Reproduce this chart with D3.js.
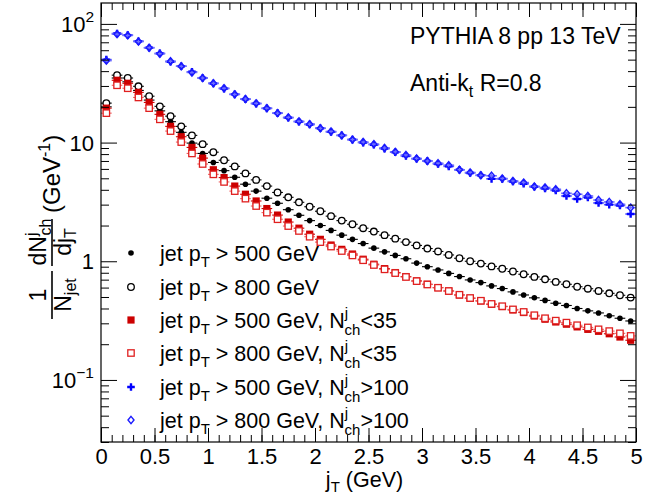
<!DOCTYPE html>
<html><head><meta charset="utf-8">
<script src="https://cdn.jsdelivr.net/npm/d3@7"></script>
<style>
body{margin:0;background:#fff;}
svg{display:block;font-family:"Liberation Sans",Arial,Helvetica,sans-serif;}
</style></head>
<body><svg id="c" width="664" height="494"></svg>
<script>
// ---- data ----
const jT = [0.05,0.15,0.25,0.35,0.45,0.55,0.65,0.75,0.85,0.95,
            1.05,1.15,1.25,1.35,1.45,1.55,1.65,1.75,1.85,1.95,
            2.05,2.15,2.25,2.35,2.45,2.55,2.65,2.75,2.85,2.95,
            3.05,3.15,3.25,3.35,3.45,3.55,3.65,3.75,3.85,3.95,
            4.05,4.15,4.25,4.35,4.45,4.55,4.65,4.75,4.85,4.95];
const binHalfWidth = 0.05;
const pt500 = [20,35,32.5,27.5,22.8,18.5,15.0,12.2,9.9,8.1,
  6.8,5.8,5.1,4.46,3.9,3.4,3.08,2.72,2.44,2.2,
  2.0,1.82,1.66,1.53,1.41,1.29,1.2,1.12,1.05,0.965,
  0.90,0.845,0.79,0.743,0.696,0.661,0.62,0.589,0.552,0.52,
  0.492,0.468,0.443,0.424,0.40,0.382,0.367,0.347,0.331,0.314];
const pt800 = [21.5,37,35,29.8,24.6,20.2,16.7,13.7,11.5,9.7,
  8.3,7.1,6.3,5.5,4.85,4.3,3.8,3.46,3.14,2.88,
  2.64,2.4,2.2,2.05,1.9,1.78,1.66,1.55,1.45,1.36,
  1.28,1.21,1.13,1.06,1.0,0.956,0.905,0.865,0.82,0.777,
  0.738,0.705,0.67,0.64,0.61,0.587,0.562,0.537,0.517,0.494];
const pt500Low = [19.5,33.5,31.6,26.5,21.8,17.3,13.7,11.2,9.1,7.4,
  5.9,5.07,4.3,3.67,3.22,2.78,2.45,2.14,1.9,1.69,
  1.53,1.37,1.26,1.15,1.04,0.944,0.867,0.803,0.743,0.683,
  0.64,0.60,0.562,0.52,0.488,0.463,0.434,0.415,0.389,0.37,
  0.346,0.325,0.308,0.295,0.28,0.267,0.257,0.245,0.23,0.216];
const pt800Low = [17.7,30.4,28.7,24,19.5,15.7,12.5,10.1,8.1,6.6,
  5.4,4.66,3.9,3.37,2.92,2.57,2.26,1.98,1.8,1.61,
  1.45,1.33,1.22,1.12,1.02,0.93,0.855,0.795,0.737,0.68,
  0.637,0.598,0.561,0.522,0.49,0.465,0.437,0.418,0.393,0.374,
  0.351,0.331,0.316,0.304,0.289,0.277,0.267,0.258,0.247,0.235];
const pt500High = [50,83,80.5,71.5,63,56.5,48,44,39.5,35,
  31.5,28.5,25.5,23.2,21.3,19.4,17.7,16.2,15.0,14.2,
  13.2,12.3,11.5,10.6,10.0,9.6,8.9,8.3,7.7,7.3,
  7.0,6.6,6.3,5.9,5.55,5.3,4.95,4.95,4.7,4.5,
  4.25,4.1,3.95,3.55,3.35,3.45,3.1,3.0,2.95,2.5];
const pt800High = [49,82,80,71,63,56,48.5,44,39,35,
  31.6,28.7,25.5,23.3,21.4,19.5,17.7,16.3,15.1,14.3,
  13.2,12.4,11.5,10.6,10.1,9.7,9.0,8.35,7.85,7.35,
  7.0,6.7,6.45,5.9,5.6,5.3,5.25,4.98,4.75,4.6,
  4.27,4.18,4.04,3.74,3.67,3.55,3.28,3.16,3.02,2.83];
const relErr = {pt500:0.01, pt800:0.01, pt500Low:0.015, pt800Low:0.015, pt500High:0.035, pt800High:0.035};

const xTickValues = [0,0.5,1,1.5,2,2.5,3,3.5,4,4.5,5];
const xTickLabels = ["0","0.5","1","1.5","2","2.5","3","3.5","4","4.5","5"];
const yTickValues = [0.1,1,10,100];
const yTickBase = ["10","1","10","10"];
const yTickExp = ["\u22121","","","2"];

const legendLabels = [
  {pt:"500", cut:null, op:null},
  {pt:"800", cut:null, op:null},
  {pt:"500", cut:"35", op:"<"},
  {pt:"800", cut:"35", op:"<"},
  {pt:"500", cut:"100", op:">"},
  {pt:"800", cut:"100", op:">"}
];

// ---- drawing ----
const svg = d3.select("#c");
const L=101,R=636,T=3,B=442;
const x = d3.scaleLinear().domain([0,5]).range([L,R]);
const y = d3.scaleLog().domain([0.03,150]).range([B,T]);

const series = [
  {name:"pt500", data:pt500, color:"#000000", bar:"#000000", marker:"dot"},
  {name:"pt800", data:pt800, color:"#000000", bar:"#000000", marker:"circle"},
  {name:"pt500Low", data:pt500Low, color:"#cc0000", bar:"#cc0000", marker:"square"},
  {name:"pt800Low", data:pt800Low, color:"#e02020", bar:"#ee6060", marker:"osquare"},
  {name:"pt500High", data:pt500High, color:"#0000ff", bar:"#5555ff", marker:"plus"},
  {name:"pt800High", data:pt800High, color:"#1a1aff", bar:"#7070ff", marker:"diamond"}
];

function drawMarker(g, type, cx, cy, color){
  if(type==="dot") g.append("circle").attr("cx",cx).attr("cy",cy).attr("r",2.8).attr("fill",color);
  else if(type==="circle") g.append("circle").attr("cx",cx).attr("cy",cy).attr("r",3.3).attr("fill","#fff").attr("stroke",color).attr("stroke-width",1.3);
  else if(type==="square") g.append("rect").attr("x",cx-3.6).attr("y",cy-3.6).attr("width",7.2).attr("height",7.2).attr("fill",color);
  else if(type==="osquare") g.append("rect").attr("x",cx-3.2).attr("y",cy-3.2).attr("width",6.4).attr("height",6.4).attr("fill","#fff").attr("stroke",color).attr("stroke-width",1.3);
  else if(type==="plus") g.append("path").attr("d",`M${cx-3.8},${cy}H${cx+3.8}M${cx},${cy-3.8}V${cy+3.8}`).attr("stroke",color).attr("stroke-width",2.4);
  else if(type==="diamond") g.append("path").attr("d",`M${cx},${cy-3.6}L${cx+3},${cy}L${cx},${cy+3.6}L${cx-3},${cy}Z`).attr("fill","none").attr("stroke",color).attr("stroke-width",1.4);
}

const plot = svg.append("g");
series.forEach(s=>{
  const g = plot.append("g");
  s.data.forEach((v,i)=>{
    const cx = x(jT[i]), cy = y(v);
    const e = v*relErr[s.name];
    g.append("line").attr("x1",x(jT[i]-binHalfWidth)).attr("x2",x(jT[i]+binHalfWidth))
      .attr("y1",cy).attr("y2",cy).attr("stroke",s.bar).attr("stroke-width",s.marker==="plus"||s.marker==="diamond"?1.6:1.1);
    g.append("line").attr("x1",cx).attr("x2",cx).attr("y1",y(v+e)).attr("y2",y(v-e))
      .attr("stroke",s.bar).attr("stroke-width",1.1);
    drawMarker(g, s.marker, cx, cy, s.color);
  });
});

// frame
svg.append("rect").attr("x",L).attr("y",T).attr("width",R-L).attr("height",B-T)
  .attr("fill","none").attr("stroke","#000").attr("stroke-width",1.2);

// axes ticks (inward)
const xMinor = x.ticks(50);
const yAll = y.ticks();
const yMinor = yAll.filter(v=>!yTickValues.some(t=>Math.abs(t-v)/t<1e-6));
function styleAxis(g){ g.select(".domain").remove(); g.selectAll("line").attr("stroke","#000").attr("stroke-width",1); }
svg.append("g").attr("transform",`translate(0,${B})`).call(d3.axisBottom(x).tickValues(xMinor).tickSize(-7).tickFormat("")).call(styleAxis);
svg.append("g").attr("transform",`translate(0,${B})`).call(d3.axisBottom(x).tickValues(xTickValues).tickSize(-14).tickPadding(6)
  .tickFormat((d,i)=>xTickLabels[i])).call(styleAxis)
  .selectAll("text").attr("font-size",22).attr("fill","#000").attr("font-family","Liberation Sans, Arial, sans-serif");
svg.append("g").attr("transform",`translate(0,${T})`).call(d3.axisTop(x).tickValues(xMinor).tickSize(-7).tickFormat("")).call(styleAxis);
svg.append("g").attr("transform",`translate(0,${T})`).call(d3.axisTop(x).tickValues(xTickValues).tickSize(-14).tickFormat("")).call(styleAxis);
svg.append("g").attr("transform",`translate(${L},0)`).call(d3.axisLeft(y).tickValues(yMinor).tickSize(-8).tickFormat("")).call(styleAxis);
svg.append("g").attr("transform",`translate(${L},0)`).call(d3.axisLeft(y).tickValues(yTickValues).tickSize(-16).tickFormat("")).call(styleAxis);
svg.append("g").attr("transform",`translate(${R},0)`).call(d3.axisRight(y).tickValues(yMinor).tickSize(-8).tickFormat("")).call(styleAxis);
svg.append("g").attr("transform",`translate(${R},0)`).call(d3.axisRight(y).tickValues(yTickValues).tickSize(-16).tickFormat("")).call(styleAxis);

// y tick labels
yTickValues.forEach((v,i)=>{
  const t = svg.append("text").attr("x",94).attr("y",y(v)+8).attr("text-anchor","end")
    .attr("font-size",22).attr("fill","#000");
  t.append("tspan").text(yTickBase[i]);
  if(yTickExp[i]) t.append("tspan").attr("dy",-10).attr("font-size",15.5).text(yTickExp[i]);
});

// x title
const xt = svg.append("text").attr("x",x(2.5)-4).attr("y",487).attr("text-anchor","middle").attr("font-size",21.5);
xt.append("tspan").text("j");
xt.append("tspan").attr("dy",5).attr("font-size",15).text("T");
xt.append("tspan").attr("dy",-5).text(" (GeV)");

// y title (rotated)
const yt = svg.append("g").attr("transform","translate(52,222) rotate(-90)");
yt.append("text").attr("x",-73).attr("y",-6).attr("text-anchor","middle").attr("font-size",23).text("1");
yt.append("line").attr("x1",-97).attr("x2",-49).attr("y1",0).attr("y2",0).attr("stroke","#000").attr("stroke-width",1.6);
const nj = yt.append("text").attr("x",-73).attr("y",19).attr("text-anchor","middle").attr("font-size",23);
nj.append("tspan").text("N");
nj.append("tspan").attr("dy",5).attr("font-size",16).text("jet");
const dn = yt.append("text").attr("x",-20).attr("y",-6).attr("text-anchor","middle").attr("font-size",23);
dn.append("tspan").text("dN");
dn.append("tspan").attr("dy",-9).attr("font-size",16).text("j");
dn.append("tspan").attr("dx",-3).attr("dy",14).attr("font-size",16).text("ch");
yt.append("line").attr("x1",-44).attr("x2",3).attr("y1",0).attr("y2",0).attr("stroke","#000").attr("stroke-width",1.6);
const dj = yt.append("text").attr("x",-20).attr("y",19).attr("text-anchor","middle").attr("font-size",23);
dj.append("tspan").text("dj");
dj.append("tspan").attr("dy",5).attr("font-size",16).text("T");
const un = yt.append("text").attr("x",9).attr("y",8).attr("text-anchor","start").attr("font-size",24);
un.append("tspan").text("(GeV");
un.append("tspan").attr("dy",-10).attr("font-size",16).text("-1");
un.append("tspan").attr("dy",10).text(")");

// annotations
svg.append("text").attr("x",410).attr("y",44).attr("font-size",23).text("PYTHIA 8 pp 13 TeV");
const ak = svg.append("text").attr("x",410).attr("y",91).attr("font-size",23);
ak.append("tspan").text("Anti-k");
ak.append("tspan").attr("dy",6).attr("font-size",16).text("t");
ak.append("tspan").attr("dy",-6).text(" R=0.8");

// legend
const legY = [253,287,320,353,387,420];
legendLabels.forEach((d,i)=>{
  const cy = legY[i];
  const g = svg.append("g");
  drawMarker(g, series[i].marker, 131, cy, series[i].color);
  const t = svg.append("text").attr("x",160).attr("y",cy+8).attr("font-size",21.5).attr("fill","#000");
  t.append("tspan").text("jet p");
  t.append("tspan").attr("dy",6).attr("font-size",15).text("T");
  t.append("tspan").attr("dy",-6).text(` > ${d.pt} GeV`+(d.cut?", N":""));
  if(d.cut){
    t.append("tspan").attr("dy",-10).attr("font-size",15).text("j");
    t.append("tspan").attr("dx",-3.5).attr("dy",17).attr("font-size",15).text("ch");
    t.append("tspan").attr("dy",-7).text(d.op+d.cut);
  }
});
</script></body></html>
